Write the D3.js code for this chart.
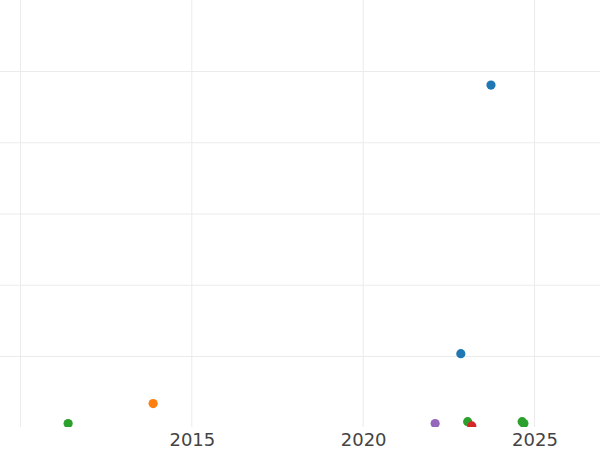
<!DOCTYPE html>
<html>
<head>
<meta charset="utf-8">
<script src="https://cdn.jsdelivr.net/npm/d3@7"></script>
<style>
    body { margin: 0; background: #fff; }
    svg { display: block; }
</style>
</head>
<body>
<svg id="chart"></svg>
<script>
// point data: [year, value]
var blueSeries = [[2023.73, 48.1], [2022.85, 10.4]]
var orangeSeries = [[2013.87, 3.4]]
var greenSeries = [[2011.39, 0.6], [2023.05, 0.85], [2024.64, 0.85], [2024.69, 0.6]]
var redSeries = [[2023.17, 0.25]]
var purpleSeries = [[2022.10, 0.6]]

var seriesColors = ["#1f77b4", "#ff7f0e", "#2ca02c", "#d62728", "#9467bd"]

var xGridValues = [2010, 2015, 2020, 2025]
var xTickLabels = [2015, 2020, 2025]
var yGridValues = [10, 20, 30, 40, 50]

var screen = {width: 600, height: 450}
var plotBottom = 427

var svg = d3.select("#chart")
    .attr("width", screen.width)
    .attr("height", screen.height)

var xScale = d3.scaleLinear()
    .domain([2010, 2025])
    .range([20.5, 534.5])

var yScale = d3.scaleLinear()
    .domain([0, 50])
    .range([427.75, 71.5])

svg.append("defs").append("clipPath")
    .attr("id", "plotclip")
    .append("rect")
    .attr("x", 0)
    .attr("y", 0)
    .attr("width", screen.width)
    .attr("height", plotBottom)

var plot = svg.append("g").attr("clip-path", "url(#plotclip)")

// grid
plot.selectAll(".vgrid")
    .data(xGridValues)
    .enter()
    .append("line")
    .attr("x1", function(d) { return xScale(d) })
    .attr("x2", function(d) { return xScale(d) })
    .attr("y1", 0)
    .attr("y2", plotBottom)
    .attr("stroke", "#ebebeb")
    .attr("stroke-width", 1)

plot.selectAll(".hgrid")
    .data(yGridValues)
    .enter()
    .append("line")
    .attr("x1", 0)
    .attr("x2", screen.width)
    .attr("y1", function(d) { return yScale(d) })
    .attr("y2", function(d) { return yScale(d) })
    .attr("stroke", "#ebebeb")
    .attr("stroke-width", 1)

// points
var allSeries = [blueSeries, orangeSeries, greenSeries, redSeries, purpleSeries]

allSeries.forEach(function(series, i)
{
    plot.append("g")
        .selectAll("circle")
        .data(series)
        .enter()
        .append("circle")
        .attr("cx", function(d) { return xScale(d[0]) })
        .attr("cy", function(d) { return yScale(d[1]) })
        .attr("r", 4.6)
        .attr("fill", seriesColors[i])
})

// x axis labels
var xAxis = d3.axisBottom(xScale)
    .tickValues(xTickLabels)
    .tickFormat(d3.format("d"))
    .tickSize(0)
    .tickPadding(0)

var axisG = svg.append("g")
    .attr("transform", "translate(0," + 433 + ")")
    .call(xAxis)

axisG.select(".domain").remove()
axisG.selectAll("text")
    .attr("dy", "0.72em")
    .attr("y", 0)
    .attr("fill", "#444")
    .style("font-family", "DejaVu Sans")
    .style("font-size", "18px")
</script>
</body>
</html>
